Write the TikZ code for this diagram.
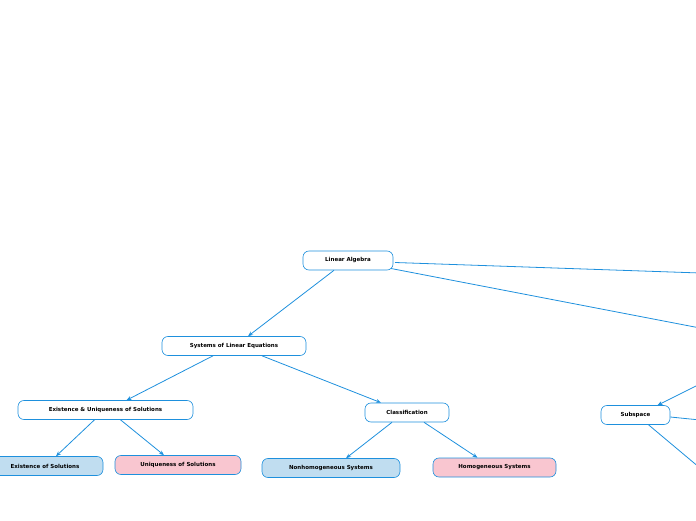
\documentclass[tikz,border=0pt]{standalone}
\usepackage{fontspec}
\setmainfont{DejaVu Sans}
\usetikzlibrary{arrows.meta}
\definecolor{ln}{HTML}{1E90DD}
\definecolor{lb}{HTML}{C0DDF0}
\definecolor{pk}{HTML}{F9C6D0}
\tikzset{
 box/.style={draw=ln, rounded corners=6pt, fill=white, minimum height=19pt, inner xsep=0pt, font=\bfseries\fontsize{5.5}{6}\selectfont, line width=0.6pt},
 con/.style={draw=ln, line width=0.8pt, -{Stealth[length=5pt,width=4pt]}},
 lin/.style={draw=ln, line width=0.8pt}
}
\begin{document}
\begin{tikzpicture}[x=1pt,y=1pt]
\useasboundingbox (0,0) rectangle (696,520);
\node[box, minimum width=90pt] (la) at (348,259.5) {Linear Algebra};
\node[box, minimum width=144pt] (sle) at (234,174) {Systems of Linear Equations};
\node[box, minimum width=175pt] (eu) at (105.5,110) {Existence \& Uniqueness of Solutions};
\node[box, minimum width=84pt] (cl) at (407,107.5) {Classification};
\node[box, fill=lb, minimum width=116pt] (es) at (45,54) {Existence of Solutions};
\node[box, fill=pk, minimum width=126pt] (us) at (178,55) {Uniqueness of Solutions};
\node[box, fill=lb, minimum width=138pt] (nh) at (331,52) {Nonhomogeneous Systems};
\node[box, fill=pk, minimum width=123pt] (hs) at (494.5,52.5) {Homogeneous Systems};
\node[box, minimum width=69pt] (sub) at (635.5,105) {Subspace};
\coordinate (o1) at (700,247);
\coordinate (o2) at (700,192);
\coordinate (o3) at (700,136);
\coordinate (o4) at (700,100);
\coordinate (o5) at (700,52);
\draw[lin] ([xshift=47pt,yshift=-2pt]la.center) -- (o1);
\draw[lin] ([xshift=43pt,yshift=-8pt]la.center) -- (o2);
\draw[con] ([xshift=-14pt]la.south) -- ([xshift=14pt]sle.north);
\draw[con] ([xshift=-21pt]sle.south) -- ([xshift=21pt]eu.north);
\draw[con] ([xshift=28pt]sle.south) -- ([xshift=-26pt]cl.north);
\draw[con] ([xshift=-11pt]eu.south) -- ([xshift=11pt]es.north);
\draw[con] ([xshift=15pt]eu.south) -- ([xshift=-14pt]us.north);
\draw[con] ([xshift=-15pt]cl.south) -- ([xshift=15pt]nh.north);
\draw[con] ([xshift=17pt]cl.south) -- ([xshift=-17pt]hs.north);
\draw[con] (o3) -- ([xshift=22pt]sub.north);
\draw[lin] (sub.east) ++(0,-2pt) -- (o4);
\draw[lin] ([xshift=13pt]sub.south) -- (o5);
\end{tikzpicture}
\end{document}
